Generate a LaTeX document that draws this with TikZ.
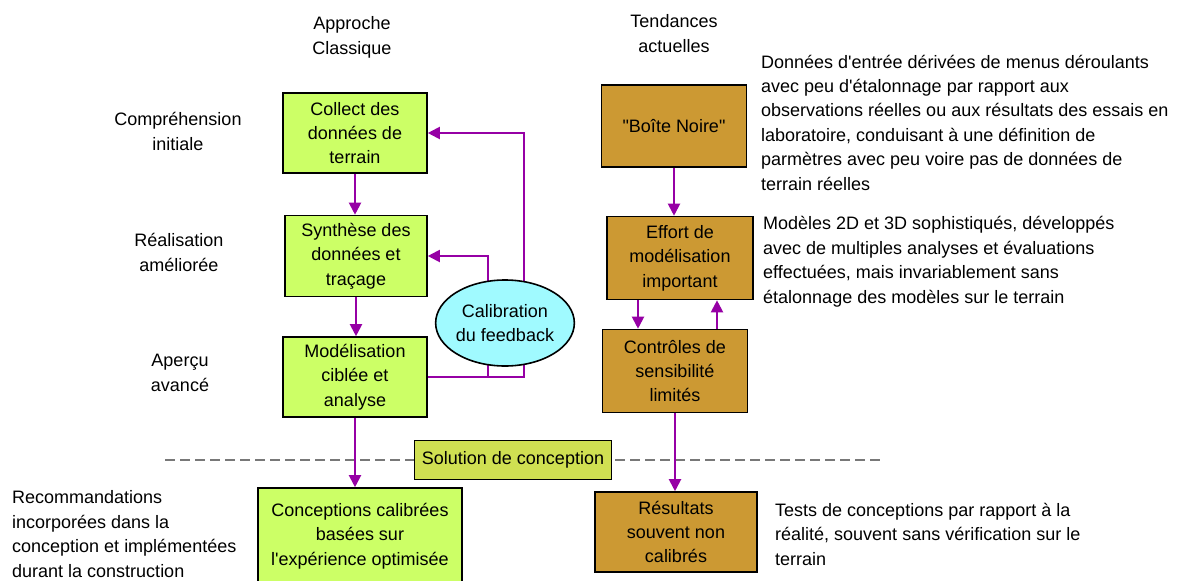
\documentclass[tikz,border=0pt]{standalone}
\usepackage{fontspec}
\usetikzlibrary{arrows.meta,shapes.geometric}
\newfontfamily\arial{Liberation Sans}
\pgfdeclarelayer{bg}
\pgfsetlayers{bg,main}
\definecolor{classicgreen}{RGB}{204,255,102}
\definecolor{trendbrown}{RGB}{204,153,51}
\definecolor{solyellow}{RGB}{208,224,82}
\definecolor{calibcyan}{RGB}{160,250,255}
\definecolor{flowpurple}{RGB}{150,0,165}
\definecolor{dashgray}{RGB}{120,120,120}
\newcommand{\txt}{\arial\fontsize{18}{24.4}\selectfont}
\tikzset{box/.style={draw=black, line width=1.6pt, align=center, font=\txt, inner sep=2pt},
    classic/.style={box, fill=classicgreen},
    trend/.style={box, fill=trendbrown},
    flow/.style={draw=flowpurple, line width=2pt, -{Triangle[length=12pt,width=12pt]}},
    fb/.style={flow},
    cut/.style={draw=dashgray, line width=2pt, dash pattern=on 10pt off 5pt},
    head/.style={font=\txt, align=center, inner sep=0pt, anchor=base},
    note/.style={font=\txt, align=left, inner sep=0pt, anchor=base west}}

\begin{document}
\begin{tikzpicture}[x=1pt, y=-1pt]
    \useasboundingbox (0,0) rectangle (1184,581);

    % labels sit on the baseline of their last line
    \node (hclassic) at (352,54) [head] {Approche\\Classique};
    \node (htrend) at (674,52) [head] {Tendances\\actuelles};

    \node (lcomp) at (178,150) [head] {Compréhension\\initiale};
    \node (lreal) at (179,271) [head] {Réalisation\\améliorée};
    \node (laper) at (180,391) [head] {Aperçu\\avancé};
    \node (lreco) at (12,577) [note] {Recommandations\\incorporées dans la\\conception et implémentées\\durant la construction};

    \node (collect) at (355,133) [classic, minimum width=144pt, minimum height=80pt] {Collect des\\données de\\terrain};
    \node (synth) at (356,256) [classic, minimum width=142pt, minimum height=81pt] {Synthèse des\\données et\\traçage};
    \node (model) at (355,377) [classic, minimum width=144pt, minimum height=80pt] {Modélisation\\ciblée et\\analyse};
    \node (concep) at (360,536) [classic, minimum width=204pt, minimum height=96pt] {Conceptions calibrées\\basées sur\\l'expérience optimisée};

    \node (calib) at (505,323) [ellipse, draw=black, line width=1.6pt, fill=calibcyan, minimum width=128pt, minimum height=86pt, inner sep=0pt, align=center, font=\txt] {Calibration\\du feedback};
    \node (sol) at (513,460) [box, fill=solyellow, minimum width=197pt, minimum height=39pt] {Solution de conception};

    \node (boite) at (674,126) [trend, minimum width=145pt, minimum height=82pt] {"Boîte Noire"};
    \node (effort) at (680,258) [trend, minimum width=146pt, minimum height=83pt] {Effort de\\modélisation\\important};
    \node (ctrl) at (675,371) [trend, minimum width=145pt, minimum height=83pt] {Contrôles de\\sensibilité\\limités};
    \node (res) at (676,532) [trend, minimum width=162pt, minimum height=80pt] {Résultats\\souvent non\\calibrés};

    \node (nboite) at (761,190) [note] {Données d'entrée dérivées de menus déroulants\\avec peu d'étalonnage par rapport aux\\observations réelles ou aux résultats des essais en\\laboratoire, conduisant à une définition de\\parmètres avec peu voire pas de données de\\terrain réelles};
    \node (neffort) at (763,303) [note] {Modèles 2D et 3D sophistiqués, développés\\avec de multiples analyses et évaluations\\effectuées, mais invariablement sans\\étalonnage des modèles sur le terrain};
    \node (nres) at (775,565) [note] {Tests de conceptions par rapport à la\\réalité, souvent sans vérification sur le\\terrain};

    \coordinate (fbouter) at (524,377);
    \coordinate (fbinner) at (488,377);
    \coordinate (cutL) at (165,460);
    \coordinate (cutR) at (880,460);

    \begin{pgfonlayer}{bg}
        \draw [cut] (cutL) -- (cutR);
        \draw [fb] (model.east) -- (fbouter) |- (collect.east);
        \draw [fb] (fbinner) |- (synth.east);
    \end{pgfonlayer}

    \draw (collect.south) edge [flow] (collect.south |- synth.north);
    \draw (synth.south) edge [flow] (synth.south |- model.north);
    \draw (model.south) edge [flow] (model.south |- concep.north);

    \draw (boite.south) edge [flow] (boite.south |- effort.north);
    \draw ([xshift=-42pt]effort.south) edge [flow] ([xshift=-42pt]effort.south |- ctrl.north);
    \draw ([xshift=42pt]ctrl.north) edge [flow] ([xshift=42pt]ctrl.north |- effort.south);
    \draw (ctrl.south) edge [flow] (ctrl.south |- res.north);
\end{tikzpicture}
\end{document}
